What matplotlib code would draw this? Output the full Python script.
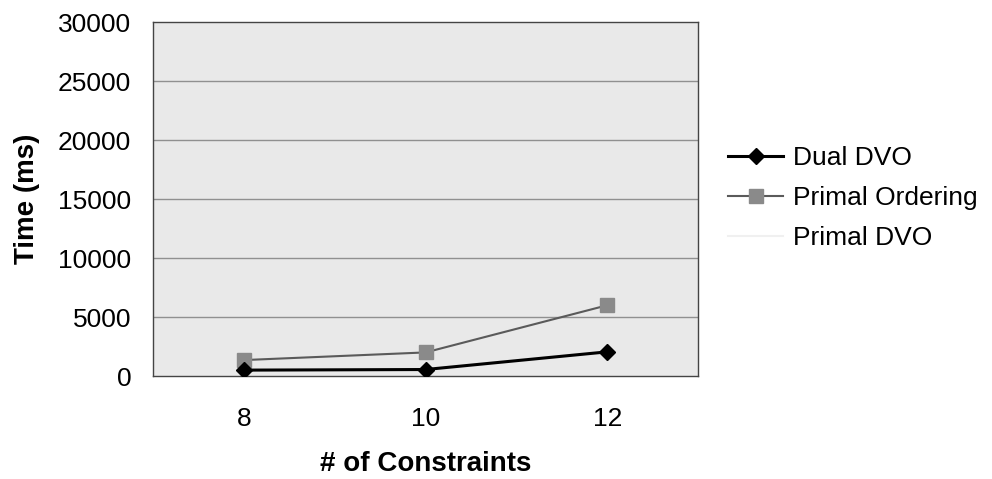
import matplotlib
matplotlib.use("Agg")
import matplotlib.pyplot as plt
import numpy as np

plt.rcParams['font.family'] = ['Liberation Sans', 'DejaVu Sans']

constraints = ["8", "10", "12"]
dual_dvo = [500, 550, 2050]
primal_ordering = [1350, 2000, 6000]
primal_dvo = []  # series present in the legend only

y_ticks = [0, 5000, 10000, 15000, 20000, 25000, 30000]

fig = plt.figure(figsize=(9.92, 4.79), dpi=100)
ax = fig.add_axes([0.154, 0.215, 0.550, 0.739])

ax.set_facecolor('#e9e9e9')
x = np.arange(len(constraints))

for y in y_ticks[1:-1]:
    ax.axhline(y, color='#909090', lw=1.0, zorder=1)

ax.plot(x, dual_dvo, color='black', lw=2.2, marker='D', markersize=8,
        markerfacecolor='black', markeredgecolor='black', zorder=4, label='Dual DVO')
ax.plot(x, primal_ordering, color='#5a5a5a', lw=1.5, marker='s', markersize=9.5,
        markerfacecolor='#8a8a8a', markeredgecolor='#8a8a8a', zorder=3,
        label='Primal Ordering')
ax.plot(primal_dvo, primal_dvo, color='#f0f0f0', lw=1.5, label='Primal DVO')

ax.set_xlim(-0.5, len(constraints) - 0.5)
ax.set_ylim(0, 30000)
ax.set_xticks(x)
ax.set_xticklabels(constraints)
ax.set_yticks(y_ticks)
ax.tick_params(axis='both', length=0, labelsize=19)
ax.tick_params(axis='y', pad=15.5)
ax.tick_params(axis='x', pad=22)

for s in ax.spines.values():
    s.set_color('#444444')
    s.set_linestyle((0, (1, 1)))
    s.set_linewidth(1.0)

ax.set_xlabel('# of Constraints', fontsize=20, fontweight='bold', labelpad=15)
ax.set_ylabel('Time (ms)', fontsize=20, fontweight='bold', labelpad=13)

ax.legend(loc='center left', bbox_to_anchor=(728 / 992, 1 - 198 / 479),
          bbox_transform=fig.transFigure, frameon=False, borderpad=0,
          borderaxespad=0, fontsize=19, handlelength=2.1, labelspacing=0.6,
          handletextpad=0.38)

fig.savefig('out.png', dpi=100, facecolor='white')
